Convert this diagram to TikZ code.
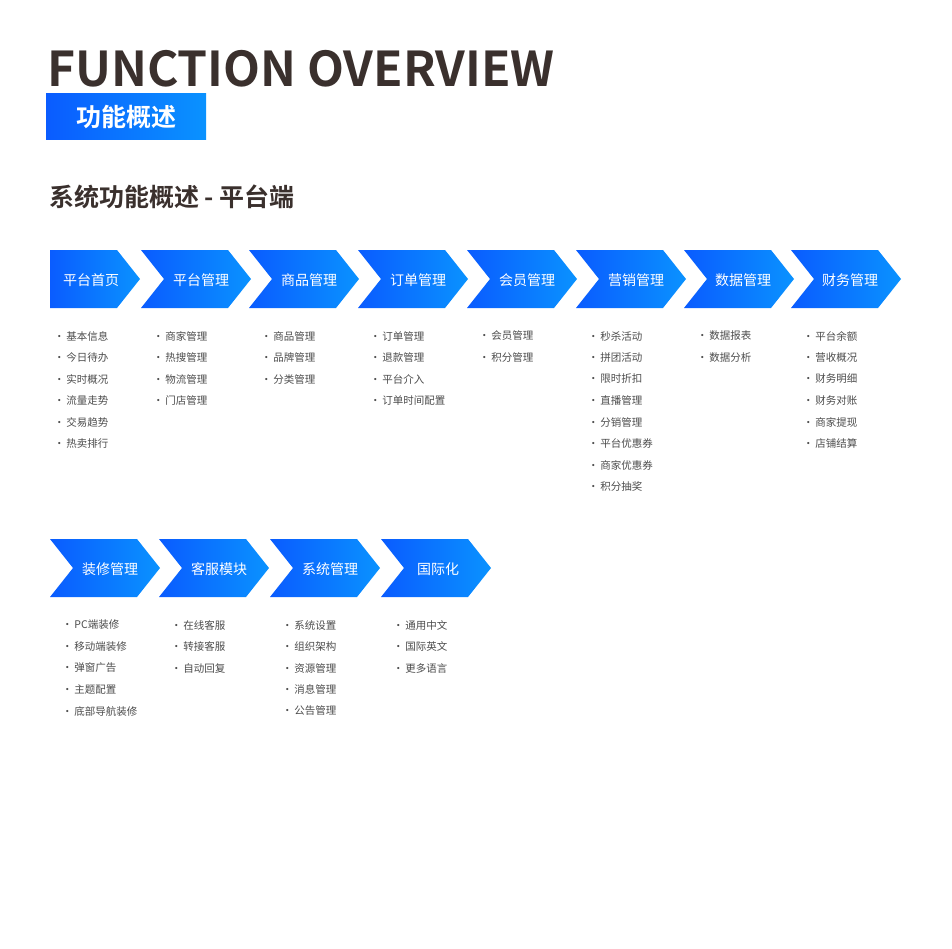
\documentclass[tikz,border=0pt]{standalone}
\usepackage{fontspec}
\setmainfont{Noto Sans CJK SC}
\newfontfamily\cjkb{Noto Sans CJK SC Bold}
\begin{document}
\begin{tikzpicture}[x=1pt,y=-1pt,
  dark/.style={text=black!75!brown!60!black},
  item/.style={anchor=west,font=\fontsize{10.5}{12}\selectfont,text=black!70,inner sep=0},
  lab/.style={font=\fontsize{14}{16}\selectfont,text=white,inner sep=0},
  grad/.style={left color=blue!60!cyan!40!blue,right color=cyan!70!blue!90!white}]
\definecolor{gl}{HTML}{0A5CFF}\definecolor{gr}{HTML}{0A92FF}\definecolor{tt}{HTML}{3A302D}
\tikzset{grad/.style={left color=gl,right color=gr,draw=none}}
\useasboundingbox (0,0) rectangle (952,948);
\fill[white] (0,0) rectangle (952,948);
\node[anchor=west,inner sep=0,text=tt,font=\cjkb\fontsize{48}{50}\selectfont] (t) at (47,69) {FUNCTION OVERVIEW};
\shade[grad] (46,93) rectangle (206,139);
\node[lab,font=\cjkb\fontsize{25}{28}\selectfont] (b) at (126,117) {功能概述};
\node[anchor=west,inner sep=0,text=tt,font=\cjkb\fontsize{25}{28}\selectfont] (s) at (49,197) {系统功能概述 - 平台端};
% row 1
\shade[grad] (50,250) -- (117,250) -- (140,279) -- (117,308) -- (50,308) -- cycle;
\foreach \x in {141,249,358,467,576,684,791}{
 \shade[grad] (\x,250) -- (\x+87,250) -- (\x+110,279) -- (\x+87,308) -- (\x,308) -- (\x+23,279) -- cycle;}
\foreach \c/\t [count=\i] in {91/平台首页,201/平台管理,309/商品管理,418/订单管理,527/会员管理,636/营销管理,743/数据管理,850/财务管理}
 \node[lab] (h\i) at (\c,280) {\t};
\foreach \x/\lst in {54/{基本信息,今日待办,实时概况,流量走势,交易趋势,热卖排行},153/{商家管理,热搜管理,物流管理,门店管理},261/{商品管理,品牌管理,分类管理},370/{订单管理,退款管理,平台介入,订单时间配置},479/{会员管理,积分管理},588/{秒杀活动,拼团活动,限时折扣,直播管理,分销管理,平台优惠券,商家优惠券,积分抽奖},697/{数据报表,数据分析},803/{平台余额,营收概况,财务明细,财务对账,商家提现,店铺结算}}
 \foreach \t [count=\j] in \lst
  \node[item] at (\x,314.5+21.5*\j) {·\,\t};
% row 2
\foreach \x in {50,159,270,381}{
 \shade[grad] (\x,539) -- (\x+87,539) -- (\x+110,568) -- (\x+87,597) -- (\x,597) -- (\x+23,568) -- cycle;}
\foreach \c/\t [count=\i] in {110/装修管理,219/客服模块,330/系统管理,438/国际化}
 \node[lab] (k\i) at (\c,569) {\t};
\foreach \x/\lst in {62/{PC端装修,移动端装修,弹窗广告,主题配置,底部导航装修},171/{在线客服,转接客服,自动回复},282/{系统设置,组织架构,资源管理,消息管理,公告管理},393/{通用中文,国际英文,更多语言}}
 \foreach \t [count=\j] in \lst
  \node[item] at (\x,603.5+21.5*\j) {·\,\t};
\end{tikzpicture}
\end{document}
